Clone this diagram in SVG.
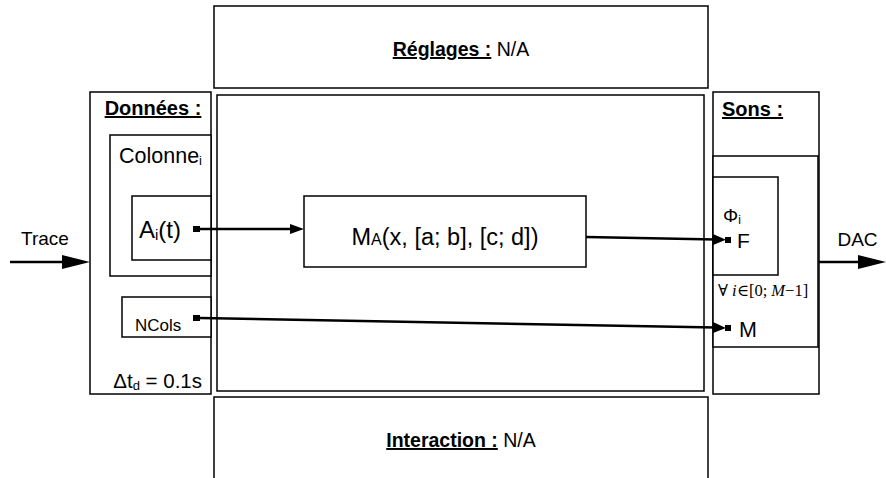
<svg xmlns="http://www.w3.org/2000/svg" width="886" height="478" viewBox="0 0 886 478">
<defs>
<style>
.box{fill:#fff;stroke:#000;stroke-width:1.5}
.t{font-family:"Liberation Sans",Arial,sans-serif;fill:#000}
.b{font-weight:bold;text-decoration:underline}
.c{fill:none;stroke:#000;stroke-width:2.5}
</style>
</defs>
<g id="reglages"><rect class="box" x="214" y="6" width="494" height="82"/>
<text class="t" x="461" y="56" font-size="19.5" text-anchor="middle"><tspan class="b">Réglages :</tspan> N/A</text></g>
<g id="interaction"><rect class="box" x="214" y="397" width="494" height="90"/>
<text class="t" x="461" y="447" font-size="19.5" text-anchor="middle"><tspan class="b">Interaction :</tspan> N/A</text></g>
<g id="centre"><rect class="box" x="217" y="95" width="487" height="296"/></g>
<g id="donnees"><rect class="box" x="90" y="92" width="121" height="302"/>
<text class="t b" x="153" y="115" font-size="20" text-anchor="middle">Données :</text>
<text class="t" x="202" y="388" font-size="20.5" text-anchor="end">Δt<tspan font-size="13" dy="2">d</tspan><tspan dy="-2"> = 0.1s</tspan></text></g>
<g id="colonne"><rect class="box" x="110" y="135" width="101" height="141"/>
<text class="t" x="119" y="163" font-size="21.5">Colonne<tspan font-size="13" dy="2">i</tspan></text></g>
<g id="ai"><rect class="box" x="132" y="196" width="79" height="64"/>
<text class="t" x="139" y="238" font-size="24">A<tspan font-size="15" dy="2">i</tspan><tspan dy="-2">(t)</tspan></text></g>
<g id="ncols"><rect class="box" x="122" y="297" width="89" height="40"/>
<text class="t" x="135" y="331" font-size="17">NCols</text></g>
<g id="ma"><rect class="box" x="304" y="196" width="282" height="71"/>
<text class="t" x="445" y="245" font-size="23.5" text-anchor="middle">M<tspan font-size="16">A</tspan>(x, [a; b], [c; d])</text></g>
<g id="sons"><rect class="box" x="713" y="92" width="106" height="302"/>
<text class="t b" x="722" y="116" font-size="20">Sons :</text></g>
<g id="sons-inner"><rect class="box" x="713" y="156" width="105" height="191"/>
<text x="718" y="296" font-family="'Liberation Serif','DejaVu Serif',serif" font-size="16.5">∀ <tspan font-style="italic">i</tspan>∈[0; <tspan font-style="italic">M</tspan>−1]</text>
<text class="t" x="739" y="337" font-size="21.5">M</text></g>
<g id="phi"><rect class="box" x="713" y="177" width="65" height="98"/>
<text class="t" x="723" y="222" font-size="19">Φ<tspan font-size="12" dy="2">i</tspan></text>
<text class="t" x="737" y="248" font-size="21">F</text></g>
<g id="labels">
<text class="t" x="45" y="245" font-size="19" text-anchor="middle">Trace</text>
<text class="t" x="857.5" y="246" font-size="19" text-anchor="middle">DAC</text>
</g>
<g id="connectors">
<line class="c" x1="10" y1="262" x2="64" y2="262"/>
<polygon points="62,255 90,262 62,269"/>
<line class="c" x1="819" y1="262" x2="860" y2="262"/>
<polygon points="858,255 886,262 858,269"/>
<rect x="193" y="226" width="7" height="6"/>
<line class="c" x1="200" y1="229" x2="292" y2="229"/>
<polygon points="290,224 304,229 290,234"/>
<line class="c" x1="586" y1="237" x2="716" y2="239.5"/>
<polygon points="713,234 726,239.8 713,245"/>
<rect x="725" y="237" width="6" height="6"/>
<rect x="193" y="315" width="7" height="6"/>
<line class="c" x1="200" y1="318" x2="716" y2="327.5"/>
<polygon points="713,322 726,328 713,333"/>
<rect x="725" y="325" width="6" height="6"/>
</g>
</svg>
